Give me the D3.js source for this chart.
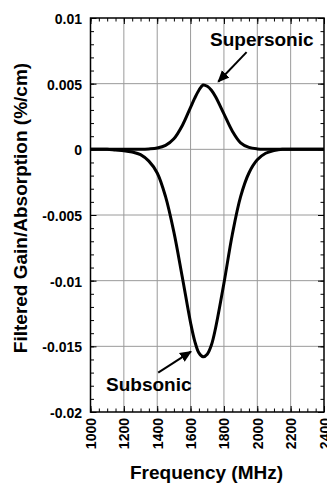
<!DOCTYPE html>
<html>
<head>
<meta charset="utf-8">
<script src="https://cdn.jsdelivr.net/npm/d3@7"></script>
<style>
  body { margin: 0; background: #fff; }
  .chart { display: block; font-family: Arial, 'Liberation Sans', Helvetica, sans-serif; }
  .grid { stroke: #9a9a9a; stroke-width: 1; }
  .axis path { display: none; }
  .axis line { stroke: #000; stroke-width: 1; }
  .tick-label { font-size: 14px; font-weight: bold; fill: #000; }
  .title { font-size: 19px; font-weight: bold; fill: #000; }
  .curve { fill: none; stroke: #000; stroke-width: 3; }
  .callout { stroke: #000; stroke-width: 2; }
</style>
</head>
<body>
<svg class="chart"></svg>
<script>
const frequencies = [1000, 1050, 1100, 1150, 1200, 1250, 1300, 1350, 1400, 1450, 1500, 1550, 1600, 1625, 1650,
  1675, 1700, 1725, 1750, 1800, 1850, 1900, 1950, 2000, 2050, 2100, 2150, 2200, 2250, 2300, 2350, 2400];
const supersonic = [0, 0, 0, 0, 0, 0, 0, 0.00003, 0.0001, 0.0003, 0.0008, 0.0018, 0.0032, 0.0039, 0.0045,
  0.0049, 0.0048, 0.0045, 0.0040, 0.0027, 0.0014, 0.0005, 0.00015, 0.00003, 0, 0, 0, 0, 0, 0, 0, 0];
const subsonic = [0, 0, 0, -0.00005, -0.0001, -0.0002, -0.0004, -0.0009, -0.0018, -0.0036, -0.0063, -0.0097,
  -0.0132, -0.0146, -0.0155, -0.0158, -0.0156, -0.0149, -0.0136, -0.0102, -0.0065, -0.0036, -0.0018, -0.0008,
  -0.0003, -0.0001, 0, 0, 0, 0, 0, 0];
const xTicks = [1000, 1200, 1400, 1600, 1800, 2000, 2200, 2400];
const xTickLabels = ['1000', '1200', '1400', '1600', '1800', '2000', '2200', '2400'];
const yTicks = [0.01, 0.005, 0, -0.005, -0.01, -0.015, -0.02];
const yTickLabels = ['0.01', '0.005', '0', '-0.005', '-0.01', '-0.015', '-0.02'];
const seriesNames = ['Supersonic', 'Subsonic'];

const size = { width: 327, height: 483 };
const plot = { left: 90.5, top: 18, right: 324, bottom: 412 };

const svg = d3.select('.chart').attr('width', size.width).attr('height', size.height);

const xScale = d3.scaleLinear().domain([1000, 2400]).range([plot.left, plot.right]);
const yScale = d3.scaleLinear().domain([-0.02, 0.01]).range([plot.bottom, plot.top]);

const xMinor = d3.range(1000, 2401, 50);
const yMinor = d3.range(-20, 11).map(v => v / 1000);

// grid
svg.append('g').selectAll('line')
  .data(xTicks.slice(1, -1))
  .enter().append('line')
  .classed('grid', true)
  .attr('x1', d => xScale(d)).attr('x2', d => xScale(d))
  .attr('y1', plot.top).attr('y2', plot.bottom);

svg.append('g').selectAll('line')
  .data(yTicks.slice(1, -1))
  .enter().append('line')
  .classed('grid', true)
  .attr('x1', plot.left).attr('x2', plot.right)
  .attr('y1', d => yScale(d)).attr('y2', d => yScale(d));

// ticks, all pointing inwards
const addAxis = (axis, transform) => svg.append('g').classed('axis', true).attr('transform', transform).call(axis);

addAxis(d3.axisBottom(xScale).tickValues(xMinor).tickSize(-3.5).tickFormat(''), `translate(0, ${plot.bottom})`);
addAxis(d3.axisTop(xScale).tickValues(xMinor).tickSize(-3.5).tickFormat(''), `translate(0, ${plot.top})`);
addAxis(d3.axisLeft(yScale).tickValues(yMinor).tickSize(-3.5).tickFormat(''), `translate(${plot.left}, 0)`);
addAxis(d3.axisRight(yScale).tickValues(yMinor).tickSize(-3.5).tickFormat(''), `translate(${plot.right}, 0)`);
addAxis(d3.axisTop(xScale).tickValues(xTicks).tickSize(-6).tickFormat(''), `translate(0, ${plot.top})`);
addAxis(d3.axisRight(yScale).tickValues(yTicks).tickSize(-6).tickFormat(''), `translate(${plot.right}, 0)`);

const xAxis = addAxis(d3.axisBottom(xScale).tickValues(xTicks).tickSize(-6)
  .tickFormat((d, i) => xTickLabels[i]), `translate(0, ${plot.bottom})`);
xAxis.selectAll('text')
  .classed('tick-label', true)
  .attr('transform', 'rotate(-90)')
  .attr('text-anchor', 'end')
  .attr('x', -6)
  .attr('y', 0)
  .attr('dy', '0.36em');

const yAxis = addAxis(d3.axisLeft(yScale).tickValues(yTicks).tickSize(-6).tickPadding(8.5)
  .tickFormat((d, i) => yTickLabels[i]), `translate(${plot.left}, 0)`);
yAxis.selectAll('text').classed('tick-label', true).attr('dy', '0.4em');
svg.selectAll('.axis text').attr('font-family', null).attr('font-size', null);

// curves
const line = d3.line()
  .x((d, i) => xScale(frequencies[i]))
  .y(d => yScale(d))
  .curve(d3.curveCatmullRom.alpha(0.5));

[supersonic, subsonic].forEach((series) => {
  svg.append('path').classed('curve', true).attr('d', line(series));
});

// frame
svg.append('rect')
  .attr('x', plot.left).attr('y', plot.top)
  .attr('width', plot.right - plot.left).attr('height', plot.bottom - plot.top)
  .attr('fill', 'none').attr('stroke', '#000').attr('stroke-width', 1.5);

// callouts
svg.append('defs').append('marker')
  .attr('id', 'head')
  .attr('viewBox', '0 0 10 10')
  .attr('refX', 9).attr('refY', 5)
  .attr('markerWidth', 6).attr('markerHeight', 6)
  .attr('markerUnits', 'strokeWidth')
  .attr('orient', 'auto')
  .append('path').attr('d', 'M0,0.6 L10,5 L0,9.4 Z').attr('fill', '#000');

const drawCallout = (name, textAt, from, to) => {
  svg.append('text').classed('title', true)
    .attr('x', xScale(textAt[0])).attr('y', yScale(textAt[1]))
    .text(name);
  svg.append('line').classed('callout', true)
    .attr('x1', xScale(from[0])).attr('y1', yScale(from[1]))
    .attr('x2', xScale(to[0])).attr('y2', yScale(to[1]))
    .attr('marker-end', 'url(#head)');
};

drawCallout(seriesNames[0], [1717, 0.0079], [1936, 0.0074], [1766, 0.00515]);
drawCallout(seriesNames[1], [1093, -0.0184], [1406, -0.0170], [1602, -0.0154]);

// axis titles
svg.append('text').classed('title', true)
  .attr('x', 206.5).attr('y', 479)
  .attr('text-anchor', 'middle')
  .text('Frequency (MHz)');

svg.append('text').classed('title', true)
  .attr('transform', 'translate(27, 208) rotate(-90)')
  .attr('text-anchor', 'middle')
  .text('Filtered Gain/Absorption (%/cm)');
</script>
</body>
</html>
